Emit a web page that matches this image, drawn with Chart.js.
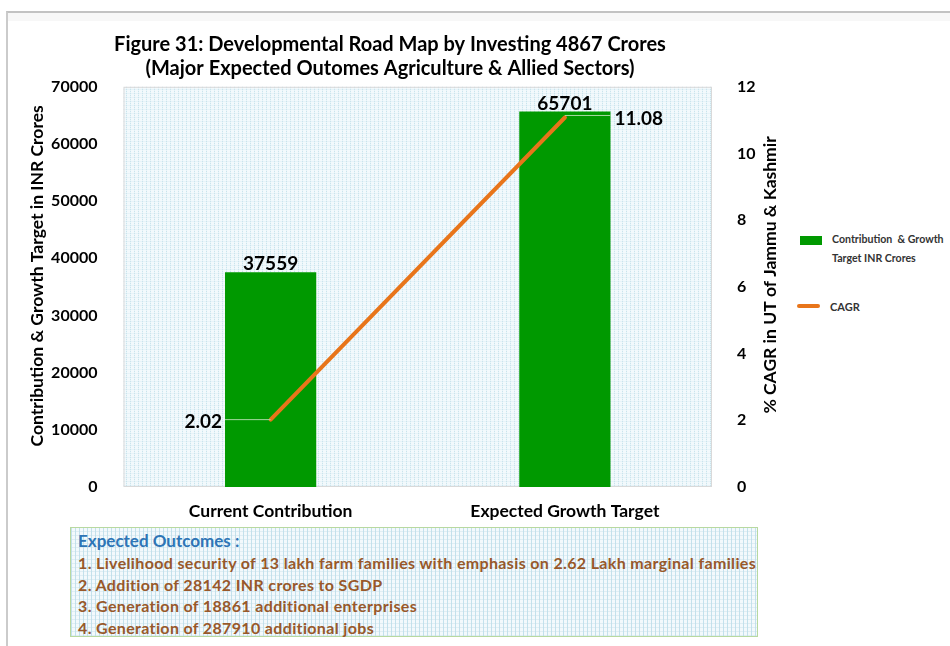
<!DOCTYPE html>
<html>
<head>
<meta charset="utf-8">
<script src="https://cdn.jsdelivr.net/npm/chart.js@4"></script>
<style>
  html, body { margin:0; padding:0; background:#fff; }
  body { width:950px; height:646px; position:relative; overflow:hidden; font-family:'Lato', sans-serif; }
  #frame { position:absolute; left:6px; top:11px; width:960px; height:660px; border-top:2px solid #c2c2c2; border-left:2px solid #cbcbcb; }
  #band { position:absolute; left:8px; top:13px; width:950px; height:8px; background:#f7f7f7; }
  #wrap { position:absolute; left:0; top:0; width:780px; height:530px; }
  .legend { position:absolute; font-weight:bold; font-size:10.5px; color:#333; line-height:19px; white-space:nowrap; }
  #box { position:absolute; left:70px; top:527px; width:688px; height:110px; border:1.5px solid #b8d9a0;
         background-color:#f3f9fc;
         background-image: repeating-linear-gradient(90deg, rgba(190,222,234,0.9) 0 1px, transparent 1px 4px),
                           repeating-linear-gradient(0deg, rgba(210,230,238,0.6) 0 1px, transparent 1px 4px);
         padding:2px 0 0 7px; box-sizing:border-box; }
  #box .h { color:#2e75b6; font-weight:bold; font-size:17px; line-height:22px; }
  #box .l { color:#98582a; font-weight:bold; font-size:16px; letter-spacing:0.35px; line-height:21.6px; white-space:nowrap; }
</style>
</head>
<body>
<div id="frame"></div>
<div id="band"></div>
<div id="wrap"><canvas id="c" width="780" height="530"></canvas></div>

<div class="legend" style="left:800px;top:236px;width:22px;height:9px;background:#009900;"></div>
<div class="legend" style="left:832px;top:230px;font-size:10.6px;">Contribution&nbsp; &amp; Growth<br>Target INR Crores</div>
<div class="legend" style="left:797px;top:304px;width:23px;height:4px;border-radius:2px;background:#e8751a;"></div>
<div class="legend" style="left:830px;top:297px;font-size:11px;">CAGR</div>

<div id="box">
  <div class="h">Expected Outcomes :</div>
  <div class="l">1. Livelihood security of 13 lakh farm families with emphasis on 2.62 Lakh marginal families</div>
  <div class="l">2. Addition of 28142 INR crores to SGDP</div>
  <div class="l">3. Generation of 18861 additional enterprises</div>
  <div class="l">4. Generation of 287910 additional jobs</div>
</div>

<script>
const titleLines = ['Figure 31: Developmental Road Map by Investing 4867 Crores', '(Major Expected Outomes Agriculture & Allied Sectors)'];
const categories = ['Current Contribution', 'Expected Growth Target'];
const contribution = [37559, 65701];
const cagr = [2.02, 11.08];
const leftAxisTitle = 'Contribution & Growth Target in INR Crores';
const rightAxisTitle = '% CAGR in UT of Jammu & Kashmir';
const FONT = 'Lato';

const bgPlugin = {
  id: 'bg',
  beforeDraw(chart) {
    const {ctx, chartArea: a} = chart;
    ctx.save();
    ctx.fillStyle = '#f2f9fc';
    ctx.fillRect(a.left, a.top, a.right - a.left, a.bottom - a.top);
    ctx.lineWidth = 1;
    ctx.strokeStyle = 'rgba(185,220,232,0.9)';
    ctx.setLineDash([1, 1]);
    for (let x = Math.round(a.left) + 2.5; x < a.right; x += 4) {
      ctx.beginPath(); ctx.moveTo(x, a.top); ctx.lineTo(x, a.bottom); ctx.stroke();
    }
    ctx.strokeStyle = 'rgba(205,228,236,0.6)';
    for (let y = Math.round(a.top) + 2.5; y < a.bottom; y += 4) {
      ctx.beginPath(); ctx.moveTo(a.left, y); ctx.lineTo(a.right, y); ctx.stroke();
    }
    ctx.setLineDash([]);
    ctx.strokeStyle = '#d9d9d9';
    ctx.strokeRect(a.left + 0.5, a.top + 0.5, a.right - a.left - 1, a.bottom - a.top - 1);
    ctx.restore();
  }
};

const labelPlugin = {
  id: 'labels',
  afterDatasetsDraw(chart) {
    const {ctx} = chart;
    const bars = chart.getDatasetMeta(1).data;
    const pts = chart.getDatasetMeta(0).data;
    ctx.save();
    ctx.strokeStyle = '#a6d9a0';
    ctx.lineWidth = 1;
    ctx.beginPath();
    ctx.moveTo(bars[0].x - bars[0].width / 2, pts[0].y);
    ctx.lineTo(pts[0].x, pts[0].y);
    ctx.moveTo(pts[1].x, pts[1].y - 2);
    ctx.lineTo(bars[1].x + bars[1].width / 2, pts[1].y - 2);
    ctx.stroke();
    ctx.fillStyle = '#000';
    ctx.font = 'bold 19px ' + FONT;
    ctx.textBaseline = 'middle';
    ctx.textAlign = 'center';
    bars.forEach((b, i) => ctx.fillText(String(contribution[i]), b.x, b.y - 8));
    ctx.textAlign = 'right';
    ctx.fillText(cagr[0].toFixed(2), bars[0].x - bars[0].width / 2 - 3, pts[0].y + 2);
    ctx.textAlign = 'left';
    ctx.fillText(cagr[1].toFixed(2), bars[1].x + bars[1].width / 2 + 4, pts[1].y + 1);
    ctx.restore();
  },
  afterDraw(chart) {
    const {ctx, chartArea: a} = chart;
    const cy = (a.top + a.bottom) / 2;
    ctx.save();
    ctx.font = 'bold 17.5px ' + FONT;
    ctx.fillStyle = '#000';
    ctx.textAlign = 'center';
    ctx.textBaseline = 'middle';
    ctx.save();
    ctx.translate(37, cy - 11);
    ctx.rotate(-Math.PI / 2);
    ctx.fillText(leftAxisTitle, 0, 0);
    ctx.restore();
    ctx.translate(770, cy - 12);
    ctx.rotate(-Math.PI / 2);
    ctx.fillText(rightAxisTitle, 0, 0);
    ctx.restore();
  }
};

new Chart(document.getElementById('c'), {
  data: {
    labels: categories,
    datasets: [
      { type: 'line', label: 'CAGR', data: cagr, yAxisID: 'y1', borderColor: '#e8751a', borderWidth: 4,
        pointRadius: 0, order: 0, borderCapStyle: 'round' },
      { type: 'bar', label: 'Contribution & Growth Target INR Crores', data: contribution, yAxisID: 'y',
        backgroundColor: '#009900', categoryPercentage: 1, barPercentage: 0.31, order: 1 }
    ]
  },
  options: {
    responsive: false,
    devicePixelRatio: 1,
    animation: false,
    layout: { padding: { top: 32, left: 0, right: 0, bottom: 3 } },
    plugins: {
      legend: { display: false },
      tooltip: { enabled: false },
      title: { display: true, text: titleLines, color: '#000',
        font: { family: FONT, size: 20, weight: 'bold', lineHeight: 1.22 }, padding: { top: 0, bottom: 6 } }
    },
    scales: {
      x: { offset: true, grid: { display: false }, border: { display: false },
        ticks: { color: '#000', font: { family: FONT, size: 17.5, weight: 'bold' }, padding: 6 },
        afterFit(s) { s.height = 40; } },
      y: { position: 'left', min: 0, max: 70000, grid: { display: false }, border: { display: false },
        ticks: { stepSize: 10000, color: '#000', font: { family: FONT, size: 16, weight: 'bold' }, padding: 18,
          callback: v => String(v) },
        afterFit(s) { s.width = 123.5; } },
      y1: { position: 'right', min: 0, max: 12, grid: { display: false }, border: { display: false },
        ticks: { stepSize: 2, color: '#000', font: { family: FONT, size: 16, weight: 'bold' }, padding: 17,
          callback: v => String(v) },
        afterFit(s) { s.width = 68; } }
    }
  },
  plugins: [bgPlugin, labelPlugin]
});
</script>
</body>
</html>
